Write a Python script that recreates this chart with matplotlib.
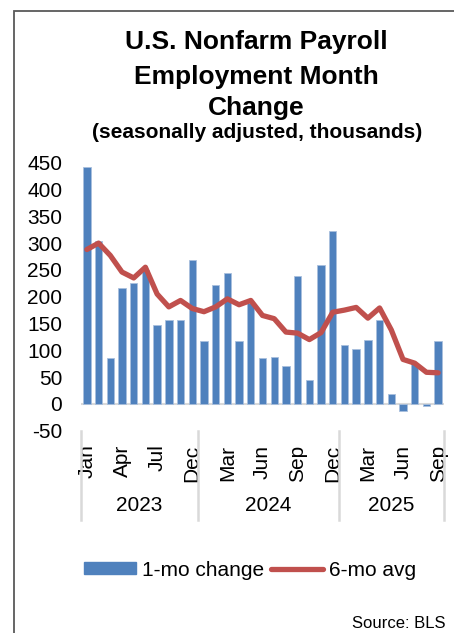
import matplotlib
matplotlib.use('Agg')
import matplotlib.pyplot as plt
from matplotlib.patches import Patch, Rectangle
from matplotlib.lines import Line2D
import numpy as np

plt.rcParams['font.family'] = ['Liberation Sans', 'DejaVu Sans']
plt.rcParams['axes.unicode_minus'] = False

# Daten (Tausend, saisonbereinigt)
months = ['Jan', 'Feb', 'Mar', 'Apr', 'May', 'Jun', 'Jul', 'Aug', 'Sep', 'Dec',
          'Jan', 'Feb', 'Mar', 'Apr', 'May', 'Jun', 'Jul', 'Aug', 'Sep', 'Oct', 'Nov', 'Dec',
          'Jan', 'Feb', 'Mar', 'Apr', 'May', 'Jun', 'Jul', 'Aug', 'Sep']
years = ['2023', '2024', '2025']
year_counts = [10, 12, 9]
change_1mo = [442, 304, 85, 216, 226, 250, 147, 156, 157, 268,
              118, 221, 245, 117, 188, 86, 87, 71, 239, 44, 260, 322,
              110, 102, 119, 157, 18, -13, 74, -4, 118]
avg_6mo = [288, 300, 277, 246, 235, 255, 205, 181, 193, 178,
           172, 181, 196, 185, 193, 165, 159, 134, 132, 120, 133, 171,
           175, 180, 160, 179, 138, 83, 76, 59, 58]

blue = '#4F81BD'
red = '#C0504D'

fig = plt.figure(figsize=(4.54, 6.33), dpi=100)
W, H = 454, 633
ax = fig.add_axes([81 / W, 1 - 430.7 / H, (444 - 81) / W, (430.7 - 162.7) / H])

x = np.arange(len(months))
ax.bar(x, change_1mo, width=0.63, color=blue, edgecolor='#A9C0DD', linewidth=0.6, zorder=2)
ax.axhline(0, color='#D9D9D9', lw=1.5, zorder=1)
ax.plot(x, avg_6mo, color=red, lw=3.8, solid_capstyle='round', solid_joinstyle='round', zorder=3)

ax.set_xlim(-0.5, len(months) - 0.5)
ax.set_ylim(-50, 450)
ax.set_yticks(np.arange(-50, 451, 50))
for s in ax.spines.values():
    s.set_visible(False)
ax.tick_params(axis='y', length=0, pad=13.5, labelsize=15)

tick_pos = x[::3]
ax.set_xticks(tick_pos)
ax.set_xticklabels([months[i] for i in tick_pos], rotation=90, fontsize=15)
ax.tick_params(axis='x', length=0, pad=10)

# Jahresgruppen unter der Achse
trans = ax.get_xaxis_transform()
bounds = np.concatenate([[0], np.cumsum(year_counts)]) - 0.5
for b in bounds:
    ax.add_line(Line2D([b, b], [-0.0, -0.335], transform=trans, color='#D9D9D9',
                       lw=1.8, clip_on=False))
for i, yr in enumerate(years):
    ax.text((bounds[i] + bounds[i + 1]) / 2, -0.28, yr, transform=trans,
            ha='center', va='center', fontsize=15)

# Titel
fig.text(256 / W, 1 - 42 / H, 'U.S. Nonfarm Payroll', ha='center', va='center',
         fontsize=19, fontweight='bold')
fig.text(256 / W, 1 - 77 / H, 'Employment Month', ha='center', va='center',
         fontsize=19, fontweight='bold')
fig.text(256 / W, 1 - 108 / H, 'Change', ha='center', va='center',
         fontsize=19, fontweight='bold')
fig.text(257 / W, 1 - 133 / H, '(seasonally adjusted, thousands)', ha='center', va='center',
         fontsize=15, fontweight='bold')

# Legende
handles = [Patch(facecolor=blue, edgecolor=blue, label='1-mo change'),
           Line2D([], [], color=red, lw=3.8, solid_capstyle='round', label='6-mo avg')]
fig.legend(handles=handles, loc='center', bbox_to_anchor=(250 / W, 1 - 570 / H), ncol=2,
           frameon=False, fontsize=15, handlelength=2.5, handleheight=0.55,
           handletextpad=0.3, columnspacing=0.3)

fig.text(446 / W, 1 - 623 / H, 'Source: BLS', ha='right', va='center', fontsize=12)

# Rahmen
fig.patches.append(Rectangle((14 / W, -0.1), 1.2, 1 - 11 / H + 0.1, transform=fig.transFigure,
                             fill=False, edgecolor='#595959', lw=1.3))

fig.savefig('out.png', dpi=100)
